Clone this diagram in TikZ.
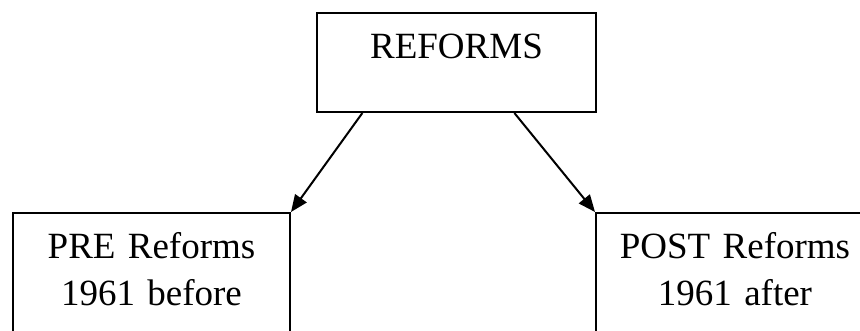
\documentclass[tikz,border=0pt]{standalone}
\usepackage{fontspec}
\setmainfont{Liberation Serif}
\usetikzlibrary{calc,arrows.meta}

\begin{document}
\begin{tikzpicture}[x=1pt,y=1pt,
    box/.style={draw,black,line width=2pt,inner sep=0pt,align=center,
      font=\fontsize{37}{47}\selectfont},
    arr/.style={black,line width=2pt,-{Triangle[length=17pt,width=14pt]}}]
  \useasboundingbox (0,0) rectangle (860,330);
  \clip (0,0) rectangle (860,330);
  \node at (456.5,318)[box,anchor=north,minimum width=279pt,
         text height=46pt,text depth=53pt] (reforms){REFORMS};
  \node at (12,118)[box,anchor=north west,text width=277pt,
         text height=45pt,text depth=120pt] (pre){PRE Reforms\\1961 before};
  \node at (595,118)[box,anchor=north west,text width=278pt,
         text height=45pt,text depth=120pt] (post){POST Reforms\\1961 after};
  \draw [arr] ($(reforms.south west)!0.165!(reforms.south east)$) -- (pre.north east);
  \draw [arr] ($(reforms.south west)!0.706!(reforms.south east)$) -- (post.north west);
\end{tikzpicture}
\end{document}
